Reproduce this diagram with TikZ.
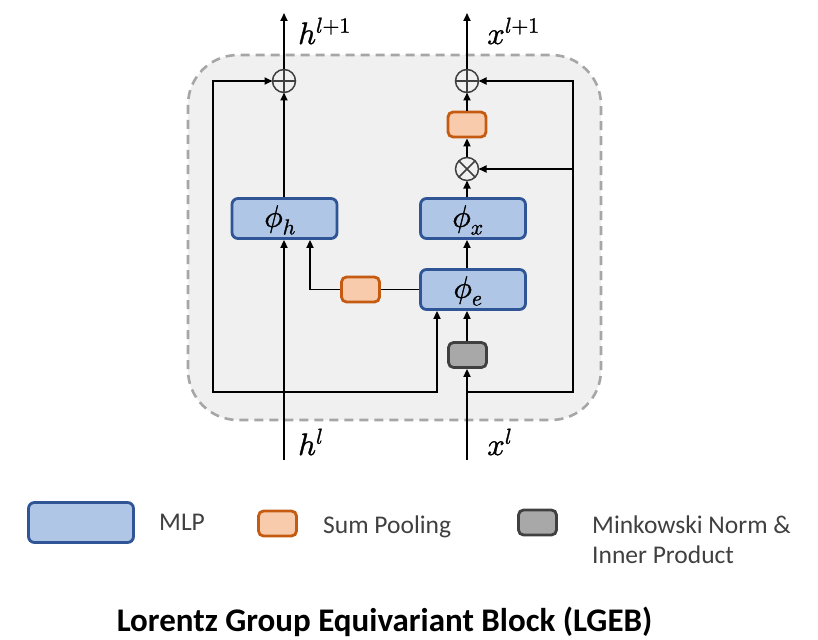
\documentclass[tikz,border=0pt]{standalone}
\usepackage{fontspec}
\usepackage{unicode-math}
\setmainfont{Carlito}
\setmathfont{Latin Modern Math}[FakeBold=1.2]
\usetikzlibrary{arrows.meta}

\definecolor{mlpfill}{RGB}{175,198,230}
\definecolor{mlpline}{RGB}{47,85,151}
\definecolor{poolfill}{RGB}{248,203,173}
\definecolor{poolline}{RGB}{197,90,17}
\definecolor{minkfill}{RGB}{168,168,168}
\definecolor{minkline}{RGB}{64,64,64}
\definecolor{bgfill}{RGB}{240,240,240}
\definecolor{bgline}{RGB}{166,166,166}
\definecolor{optext}{RGB}{64,64,64}
\definecolor{legtext}{RGB}{64,64,64}

\begin{document}
\begin{tikzpicture}[x=1pt,y=-1pt,
  conn/.style={line width=1.7pt, draw=black},
  arr/.style={conn, -{Triangle[length=8pt,width=7pt]}},
  mlpbox/.style={draw=mlpline, fill=mlpfill, line width=2.8pt, rounded corners=6pt,
    minimum width=105pt, minimum height=40pt, inner sep=0pt},
  poolbox/.style={draw=poolline, fill=poolfill, line width=2.8pt, rounded corners=5pt,
    minimum width=38pt, minimum height=25pt, inner sep=0pt},
  minkbox/.style={draw=minkline, fill=minkfill, line width=2.8pt, rounded corners=5pt,
    minimum width=38pt, minimum height=25pt, inner sep=0pt},
  opcirc/.style={circle, draw=optext, fill=bgfill, line width=1.5pt,
    minimum size=23pt, inner sep=0pt, outer sep=0pt},
  mathlbl/.style={font=\fontsize{31}{36}\selectfont, inner sep=0pt},
  legend/.style={font=\fontsize{25.5}{30}\selectfont, text=legtext, inner sep=0pt, anchor=base west},
]
\useasboundingbox (0,0) rectangle (818,639);

% block background
\draw[bgline, fill=bgfill, line width=2.6pt, dash pattern=on 9pt off 6pt, rounded corners=50pt]
  (188,55) rectangle (601,420);

% operators and modules
\node[opcirc] (oph) at (284,81) {};
\node[opcirc] (opx) at (467,81) {};
\node[opcirc] (otx) at (467,169) {};
\draw[optext, line width=1.5pt] (oph.north) -- (oph.south) (oph.west) -- (oph.east);
\draw[optext, line width=1.5pt] (opx.north) -- (opx.south) (opx.west) -- (opx.east);
\draw[optext, line width=1.5pt] (otx.north east) -- (otx.south west) (otx.north west) -- (otx.south east);

\node[poolbox] (spx) at (467,124.5) {};
\node[mlpbox] (phih) at (284.5,218.5) {};
\node[mlpbox] (phix) at (473,218.5) {};
\node[mlpbox] (phie) at (473,289.5) {};
\node[mathlbl] (phihl) at (280,220) {$\phi_h$};
\node[mathlbl] (phixl) at (468,220) {$\phi_x$};
\node[mathlbl] (phiel) at (468,291) {$\phi_e$};
\node[poolbox] (sph) at (360.5,289.5) {};
\node[minkbox] (mink) at (467.5,355) {};

% inputs / outputs
\coordinate (hin) at (284,460);
\coordinate (xin) at (467,460);
\coordinate (hend) at (284,13);
\coordinate (xend) at (467,13);
\coordinate (jh) at (284,392);
\coordinate (jx) at (467,392);
\coordinate (lb) at (213,392);
\coordinate (rt) at (573,81);
\coordinate (rm) at (573,169);
\coordinate (eb) at (437,392);
\coordinate (pk) at (310,289.5);

\node[mathlbl, anchor=base west] (hout) at (298,44) {$h^{l+1}$};
\node[mathlbl, anchor=base west] (xout) at (487,44) {$x^{l+1}$};
\node[mathlbl, anchor=base west] (hlab) at (298,455) {$h^{l}$};
\node[mathlbl, anchor=base west] (xlab) at (487,455) {$x^{l}$};

% h stream
\draw[arr] (hin) -- (phih.south -| hin);
\draw[arr] (phih.north -| hin) -- (oph.south);
\draw[arr] (oph.north) -- (hend);
\draw[arr] (jh) -- (lb) |- (oph.west);
\draw[arr] (jh) -| (phie.south -| eb);

% x stream
\draw[arr] (xin) -- (mink.south -| xin);
\draw[arr] (mink.north -| xin) -- (phie.south -| xin);
\draw[arr] (jx) -| (rt) -- (opx.east);
\draw[arr] (rm) -- (otx.east);
\draw[arr] (phie.north -| xin) -- (phix.south -| xin);
\draw[arr] (phix.north -| xin) -- (otx.south);
\draw[arr] (otx.north) -- (spx.south);
\draw[arr] (spx.north) -- (opx.south);
\draw[arr] (opx.north) -- (xend);

% messages pooled into phi_h
\draw[conn] (phie.west) -- (sph.east);
\draw[arr] (sph.west) -| (phih.south -| pk);

% legend
\node[mlpbox] (legmlp) at (81,522.5) {};
\node[legend] (legmlptxt) at (159,530) {MLP};
\node[poolbox] (legpool) at (277.5,523.5) {};
\node[legend] (legpooltxt) at (323,533) {Sum Pooling};
\node[minkbox] (legmink) at (537.5,522.5) {};
\node[legend] (legminktxt) at (592,533) {Minkowski Norm \&};
\node[legend] (legminktxtb) at (592,563) {Inner Product};

% title
\node[font=\bfseries\fontsize{33}{38}\selectfont, inner sep=0pt, anchor=base] (title) at (384.5,631)
  {Lorentz Group Equivariant Block (LGEB)};
\end{tikzpicture}
\end{document}
